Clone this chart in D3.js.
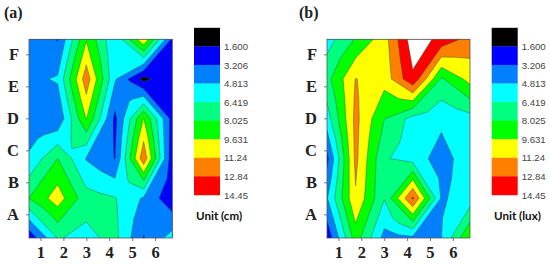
<!DOCTYPE html>
<html><head><meta charset="utf-8">
<script src="https://cdn.jsdelivr.net/npm/d3@7"></script>
<style>html,body{margin:0;padding:0;background:#fff}svg{display:block}</style>
</head><body><svg id="c" width="550" height="264"></svg>
<script>
const xTicks=[1,2,3,4,5,6];
const yTickLabels=["A","B","C","D","E","F"];
const legendLabels=["1.600","3.206","4.813","6.419","8.025","9.631","11.24","12.84","14.45"];
const levels=[1.6,3.206,4.813,6.419,8.025,9.631,11.24,12.84,14.45];
const bandColors=["#000000","#0000ff","#0080ff","#00ffff","#00ff80","#00ff00","#ffff00","#ff8000","#ff0000"];
const aboveColor="#ffffff";
// grid values: rows top to bottom, columns left to right
const gridA=[
 4.5,3.1,9.5,5.0,11.0,2.8,
 4.4,5.0,12.2,5.0,1.05,3.1,
 3.74,3.44,9.7,2.75,9.7,2.5,
 5.07,8.04,4.7,3.15,12.4,2.0,
 8.03,10.47,7.03,6.51,4.6,2.0,
 2.0,6.52,6.0,6.9,3.1,5.5];
const gridB=[
 5.76,8.15,10.54,15.36,14.0,12.2,
 7.5,11.3,10.26,14.16,7.8,10.2,
 5.64,11.7,8.05,5.83,5.2,5.8,
 2.7,11.65,6.6,5.7,4.06,5.85,
 4.7,11.05,6.5,13.1,4.62,5.5,
 2.0,8.8,4.3,4.45,4.78,9.7];

// Per-level contour mesh derived from the data at draw time: edges stay linear and
// each cell centre is set so the level crosses the cell in a straight line;
// saddles resolve by the cell mean.
function mesh(grid,n,t){
  const m=2*n-1,out=new Array(m*m);
  const at=(r,c)=>grid[r*n+c];
  for(let j=0;j<m;j++)for(let i=0;i<m;i++){
    const r=j>>1,c=i>>1,oy=j&1,ox=i&1;
    let v;
    if(!ox&&!oy)v=at(r,c);
    else if(ox&&!oy)v=(at(r,c)+at(r,c+1))/2;
    else if(!ox&&oy)v=(at(r,c)+at(r+1,c))/2;
    else{
      const a=at(r,c),b=at(r,c+1),d=at(r+1,c),e=at(r+1,c+1);
      const A=a>=t,B=b>=t,D=d>=t,E=e>=t;
      const count=A+B+D+E;
      if(count===1||count===3){
        const loneAE=count===1?(A||E):(!A||!E);
        v=loneAE?(b+d)/2:(a+e)/2;
      }else v=(a+b+d+e)/4;
    }
    out[j*m+i]=v;
  }
  return out;
}

const svg=d3.select("#c");
const serif='"Liberation Serif","Times New Roman",serif';
const sans='"Liberation Sans",Arial,sans-serif';

function panel(o){
  const g=svg.append("g");
  const x=d3.scaleLinear().domain([0.5,6.75]).range([o.left,o.right]);
  const y=d3.scaleLinear().domain([0.26,6.47]).range([o.bottom,o.top]);
  const gx=d3.scaleLinear().domain([0.5,10.5]).range([o.left,o.right]);
  const gy=d3.scaleLinear().domain([0.5,10.5]).range([o.top,o.bottom]);
  const clipId="clip"+o.id;
  svg.append("clipPath").attr("id",clipId).append("rect")
    .attr("x",o.left).attr("y",o.top).attr("width",o.right-o.left).attr("height",o.bottom-o.top);
  const path=d3.geoPath(d3.geoTransform({point(a,b){this.stream.point(gx(a),gy(b));}}));
  const gen=d3.contours().size([11,11]);
  const contours=levels.map(t=>gen.contour(mesh(o.grid,6,t),t));
  const plot=g.append("g").attr("clip-path",`url(#${clipId})`);
  plot.append("rect").attr("x",o.left).attr("y",o.top)
    .attr("width",o.right-o.left).attr("height",o.bottom-o.top).attr("fill",bandColors[0]);
  const fills=bandColors.slice(1).concat([aboveColor]);
  plot.selectAll("path").data(contours).join("path")
    .attr("d",path).attr("fill",(d,i)=>fills[i])
    .attr("stroke","#2a5a3a").attr("stroke-width",0.55).attr("stroke-opacity",0.85);
  g.append("rect").attr("x",o.left).attr("y",o.top)
    .attr("width",o.right-o.left).attr("height",o.bottom-o.top)
    .attr("fill","none").attr("stroke","#555").attr("stroke-width",0.8);
  const ax=g.append("g").attr("transform",`translate(0,${o.bottom})`)
    .call(d3.axisBottom(x).tickValues(xTicks).tickFormat(d3.format("d")).tickSize(3).tickPadding(5));
  const ay=g.append("g").attr("transform",`translate(${o.left},0)`)
    .call(d3.axisLeft(y).tickValues(xTicks).tickFormat((d,i)=>yTickLabels[i]).tickSize(3).tickPadding(7));
  [ax,ay].forEach(a=>{
    a.select(".domain").remove();
    a.selectAll("line").attr("stroke","#555").attr("stroke-width",0.8);
    a.selectAll("text").attr("font-family",serif).attr("font-weight","bold")
      .attr("font-size",16.5).attr("fill","#222");
  });
  g.append("text").attr("x",o.titleX).attr("y",18).text(o.title)
    .attr("font-family",serif).attr("font-weight","bold").attr("font-size",16).attr("fill","#222");
  const bandH=18.57, top=27.8;
  const lg=g.append("g");
  lg.selectAll("rect").data(bandColors).join("rect")
    .attr("x",o.legX).attr("width",26).attr("y",(d,i)=>top+i*bandH).attr("height",bandH+0.3)
    .attr("fill",d=>d);
  lg.selectAll("text").data(legendLabels).join("text")
    .attr("x",o.legX+30).attr("y",(d,i)=>top+(i+1)*bandH+3.6).text(d=>d)
    .attr("font-family",sans).attr("font-size",9.6).attr("fill","#444");
  g.append("text").attr("x",o.unitX).attr("y",220).text(o.unit)
    .attr("font-family",'Lato,"Open Sans",sans-serif').attr("font-weight","bold").attr("font-size",11.6).attr("fill","#111");
}
panel({id:"a",grid:gridA,left:29,right:172.3,top:39.3,bottom:238,title:"(a)",titleX:4,legX:194,unit:"Unit (cm)",unitX:196});
panel({id:"b",grid:gridB,left:327,right:470,top:39.3,bottom:238,title:"(b)",titleX:299,legX:491.7,unit:"Unit (lux)",unitX:494});
</script></body></html>
